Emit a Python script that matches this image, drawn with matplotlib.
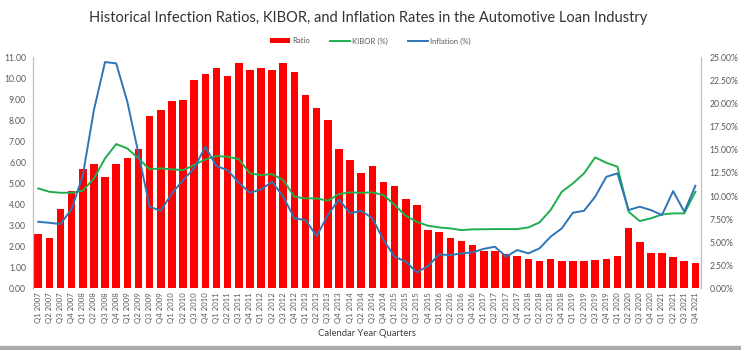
import matplotlib
matplotlib.use("Agg")
import matplotlib.pyplot as plt
from matplotlib.ticker import FuncFormatter

plt.rcParams['font.family'] = ['Lato', 'DejaVu Sans']

years = range(2007, 2022)
quarters = [f"Q{q} {y}" for y in years for q in range(1, 5)]

# infection ratio (left axis)
ratio = [2.60, 2.40, 3.76, 4.65, 5.70, 5.90, 5.32, 5.90, 6.20, 6.63,
         8.20, 8.49, 8.90, 8.97, 9.92, 10.22, 10.50, 10.10, 10.71, 10.40,
         10.50, 10.40, 10.71, 10.30, 9.20, 8.60, 8.00, 6.62, 6.10, 5.48,
         5.83, 5.08, 4.87, 4.27, 3.98, 2.78, 2.67, 2.38, 2.27, 2.06,
         1.79, 1.79, 1.62, 1.56, 1.40, 1.30, 1.40, 1.30, 1.30, 1.30,
         1.35, 1.40, 1.56, 2.89, 2.22, 1.67, 1.67, 1.48, 1.30, 1.19]

# KIBOR and inflation in percent (right axis)
kibor = [10.82, 10.46, 10.35, 10.35, 10.57, 11.90, 14.07, 15.62, 15.15, 14.07,
         12.88, 12.99, 12.88, 12.80, 13.35, 13.96, 14.32, 14.25, 14.00, 12.45,
         12.27, 12.37, 11.72, 9.92, 9.74, 9.74, 9.49, 10.20, 10.39, 10.35,
         10.39, 10.10, 9.02, 7.86, 7.20, 6.78, 6.60, 6.49, 6.31, 6.39,
         6.40, 6.42, 6.42, 6.42, 6.60, 7.14, 8.48, 10.46, 11.36, 12.45,
         14.18, 13.60, 13.17, 8.30, 7.29, 7.58, 8.00, 8.12, 8.12, 10.46]

inflation = [7.21, 7.10, 6.96, 8.60, 12.20, 19.30, 24.50, 24.35, 20.20, 14.60,
             8.84, 8.40, 10.28, 11.72, 13.00, 15.33, 13.24, 12.80, 11.45, 10.35,
             10.71, 11.54, 9.92, 7.58, 7.40, 5.66, 7.94, 9.63, 8.12, 8.40,
             7.58, 5.23, 3.43, 2.89, 1.73, 2.42, 3.68, 3.60, 3.79, 3.90,
             4.28, 4.51, 3.43, 4.15, 3.79, 4.33, 5.59, 6.49, 8.19, 8.40,
             9.92, 12.08, 12.45, 8.48, 8.84, 8.48, 7.94, 10.53, 8.30, 11.11]

red = '#ff0000'
green = '#1fae4f'
blue = '#2e75b6'
grey = '#595959'

fig = plt.figure(figsize=(7.41, 3.5), dpi=100)

# thin grey strip along the bottom edge
fig.patches.append(plt.Rectangle((0, 0), 1, 0.012, transform=fig.transFigure,
                                 color='#ababab', zorder=0))

ax = fig.add_axes([0.0445, 0.176, 0.9015, 0.660])
ax2 = ax.twinx()

x = list(range(len(quarters)))
ax.bar(x, ratio, width=0.68, color=red, label='Ratio', zorder=2)
ax2.plot(x, kibor, color=green, lw=1.4, label='KIBOR (%)')
ax2.plot(x, inflation, color=blue, lw=1.4, label='Inflation (%)')

ax.set_xlim(-0.47, len(quarters) - 0.5)
ax.set_ylim(0, 11)
ax2.set_ylim(0, 25)
ax.set_yticks([i for i in range(12)])
ax2.set_yticks([i * 2.5 for i in range(11)])
ax.yaxis.set_major_formatter(FuncFormatter(lambda v, p: f"{v:.2f}"))
ax2.yaxis.set_major_formatter(FuncFormatter(lambda v, p: f"{v:.2f}%"))

ax.set_xticks(x)
ax.set_xticklabels(quarters, rotation=90, fontsize=5.6, color=grey)
ax.tick_params(axis='y', labelsize=6.2, labelcolor=grey, length=0, pad=5)
ax2.tick_params(axis='y', labelsize=6.2, labelcolor=grey, length=0, pad=6)
ax.tick_params(axis='x', length=0, pad=3)

for a in (ax, ax2):
    a.spines['top'].set_visible(False)
    a.spines['bottom'].set_visible(False)
    a.spines['left'].set_color('#bfbfbf')
    a.spines['right'].set_color('#bfbfbf')
    a.spines['left'].set_linewidth(0.8)
    a.spines['right'].set_linewidth(0.8)

ax.set_xlabel('Calendar Year Quarters', fontsize=6.8, color='#404040', labelpad=4)

fig.text(0.497, 0.948, 'Historical Infection Ratios, KIBOR, and Inflation Rates in the Automotive Loan Industry',
         ha='center', va='center', fontsize=10.5, color='#333333')

h1, l1 = ax.get_legend_handles_labels()
h2, l2 = ax2.get_legend_handles_labels()
fig.legend(h1 + h2, l1 + l2, loc='center', bbox_to_anchor=(0.5, 0.883), ncol=3,
           frameon=False, fontsize=5.6, handlelength=2.6, handleheight=0.5,
           columnspacing=2.5, handletextpad=0.3, labelcolor=grey)

fig.savefig('out.png', dpi=100)
